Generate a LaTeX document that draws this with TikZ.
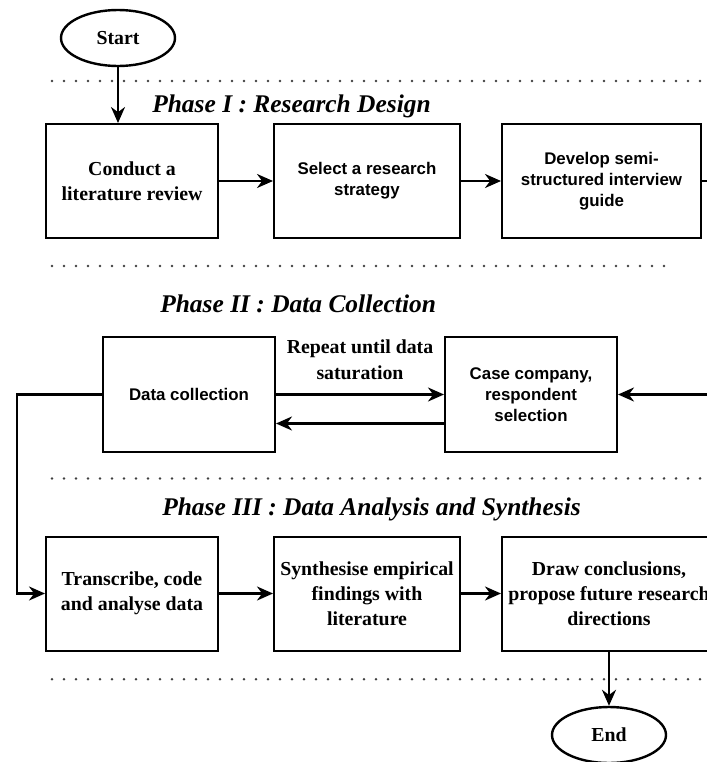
\documentclass[tikz,border=0pt]{standalone}
\usepackage{fontspec}
\setmainfont{Liberation Serif}
\setsansfont{Liberation Sans}
\usepackage{tikz}
\usetikzlibrary{positioning,arrows.meta,calc,shapes.geometric}
\tikzset{
  stepbox/.style={draw, line width=0.05cm, minimum width=4.3cm, minimum height=2.85cm,
                  align=center, inner sep=2pt},
  serifbox/.style={stepbox, font=\fontsize{14.1}{17.8}\selectfont\bfseries},
  sansbox/.style={stepbox, font=\sffamily\fontsize{12}{14.9}\selectfont\bfseries},
  terminal/.style={ellipse, draw, line width=0.06cm, minimum width=2.85cm, minimum height=1.4cm,
                   inner sep=0pt, font=\fontsize{14.1}{17.8}\selectfont\bfseries},
  flow/.style={-{Stealth[length=0.4cm, width=0.35cm]}, line width=0.065cm},
  phase/.style={anchor=base west, inner sep=0pt, font=\fontsize{18.1}{22}\selectfont\bfseries\itshape},
  lbl/.style={align=center, inner sep=0pt, font=\fontsize{14.1}{18.5}\selectfont\bfseries},
  sep/.style={line width=0.07cm, line cap=round, dash pattern=on 0pt off 0.3cm, black!75}
}

\begin{document}
\begin{tikzpicture}
        \useasboundingbox (0,0) rectangle (17.675,-19.05);
        \clip (0,0) rectangle (17.675,-19.05);
        % phase separators
        \draw[sep] (1.3,-2.025) -- (17.675,-2.025);
        \draw[sep] (1.3,-6.65) -- (16.825,-6.65);
        \draw[sep] (1.3,-11.96) -- (17.675,-11.96);
        \draw[sep] (1.3,-16.98) -- (17.675,-16.98);
        \node[phase] (p1) at (3.8,-2.8) {Phase I : Research Design};
        \node[phase] (p2) at (4.0,-7.8) {Phase II : Data Collection};
        \node[phase] (p3) at (4.05,-12.875) {Phase III : Data Analysis and Synthesis};
        % phase I
        \node[terminal] (start) at (2.95,-0.95) {Start};
        \node[serifbox] (lit) at (3.3,-4.525) {Conduct a\\literature review};
        \node[sansbox, minimum width=4.65cm] (strat) at (9.175,-4.525) {Select a research\\strategy};
        \node[sansbox, minimum width=4.975cm] (guide) at (15.0375,-4.525) {Develop semi-\\structured interview\\guide};
        % phase II
        \node[sansbox, minimum height=2.875cm] (collect) at (4.725,-9.8625) {Data collection};
        \node[sansbox, minimum height=2.875cm] (cases) at (13.275,-9.8625) {Case company,\\respondent\\selection};
        % phase III
        \node[serifbox] (code) at (3.3,-14.8375) {Transcribe, code\\and analyse data};
        \node[serifbox, minimum width=4.65cm] (synth) at (9.175,-14.8375) {Synthesise empirical\\findings with\\literature};
        \node[serifbox, minimum width=5.35cm] (concl) at (15.225,-14.8375) {Draw conclusions,\\propose future research\\directions};
        \node[terminal] (end) at (15.225,-18.375) {End};
        \coordinate (bend) at (0.425,0);
        \coordinate (rim) at (18.3,0);
        % connectors
        \draw[flow] (start.south) -- (start.south |- lit.north);
        \draw[flow] (lit) -- (strat);
        \draw[flow] (strat) -- (guide);
        \draw[flow] (guide.east) -| (rim |- cases.east) -- (cases.east);
        \draw[flow] (collect) -- node[lbl, yshift=0.875cm] (rep) {Repeat until data\\saturation} (cases);
        \draw[flow] ([yshift=-0.725cm]cases.west) -- ([yshift=-0.725cm]collect.east);
        \draw[flow] (collect.west) -- (collect.west -| bend) |- (code.west);
        \draw[flow] (code) -- (synth);
        \draw[flow] (synth) -- (concl);
        \draw[flow] (concl) -- (end);
      \end{tikzpicture}
\end{document}
